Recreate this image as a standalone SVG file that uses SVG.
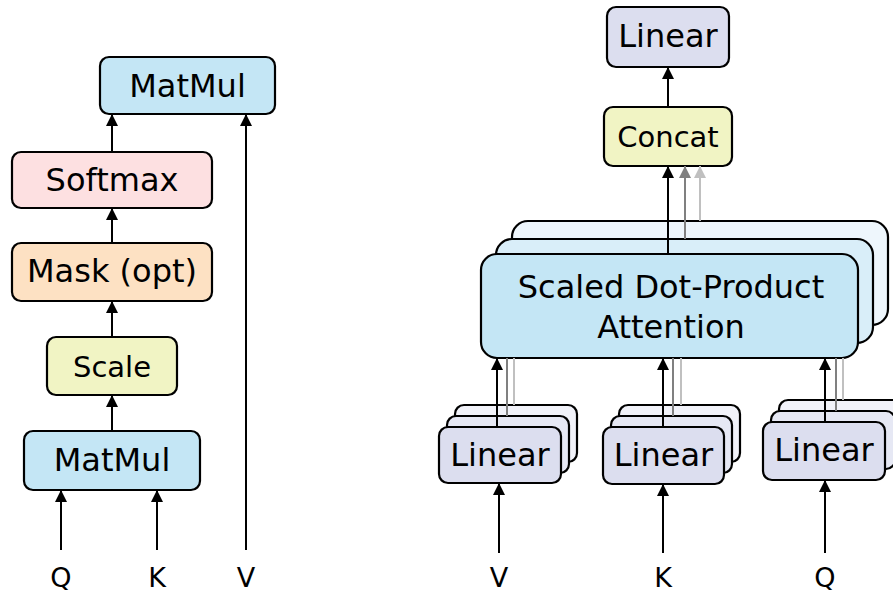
<svg xmlns="http://www.w3.org/2000/svg" width="893" height="596" viewBox="0 0 893 596">
  <defs>
    <style>
      .box { stroke: #000; stroke-width: 2.2; }
      .blue { fill: #c4e6f5; }
      .blue2 { fill: #d9eef9; }
      .blue3 { fill: #eef6fc; }
      .pink { fill: #fde0e1; }
      .peach { fill: #fde1c3; }
      .lime { fill: #f1f4c4; }
      .lav { fill: #dcdeef; }
      .lav2 { fill: #e6e8f4; }
      .lav3 { fill: #f1f2f9; }
      .t { font-family: "DejaVu Sans", Verdana, sans-serif; font-size: 32px; fill: #000; text-anchor: middle; }
      .ts { font-size: 29px; }
      .lbl { font-family: "DejaVu Sans", Verdana, sans-serif; font-size: 27px; fill: #000; text-anchor: middle; }
      .c { fill: none; stroke: #000; stroke-width: 2; }
      .g1 { stroke: #808080; }
      .g2 { stroke: #c0c0c0; }
    </style>
    <marker id="ah" viewBox="0 0 12 12" refX="12" refY="6" markerWidth="12" markerHeight="12" markerUnits="userSpaceOnUse" orient="auto">
      <path d="M0,0 L12,6 L0,12 Z" fill="#000"/>
    </marker>
    <marker id="ah1" viewBox="0 0 12 12" refX="12" refY="6" markerWidth="12" markerHeight="12" markerUnits="userSpaceOnUse" orient="auto">
      <path d="M0,0 L12,6 L0,12 Z" fill="#808080"/>
    </marker>
    <marker id="ah2" viewBox="0 0 12 12" refX="12" refY="6" markerWidth="12" markerHeight="12" markerUnits="userSpaceOnUse" orient="auto">
      <path d="M0,0 L12,6 L0,12 Z" fill="#c0c0c0"/>
    </marker>
  </defs>

  <!-- Scaled dot-product attention -->
  <g id="sdpa-matmul-top">
    <rect class="box blue" x="100" y="57" width="175" height="57" rx="9"/>
    <text class="t" x="187.5" y="97">MatMul</text>
  </g>
  <g id="sdpa-softmax">
    <rect class="box pink" x="12" y="152" width="200" height="56" rx="9"/>
    <text class="t" x="112" y="191">Softmax</text>
  </g>
  <g id="sdpa-mask">
    <rect class="box peach" x="12" y="243" width="200" height="58" rx="9"/>
    <text class="t" x="112" y="282">Mask (opt)</text>
  </g>
  <g id="sdpa-scale">
    <rect class="box lime" x="47" y="337" width="130" height="58" rx="9"/>
    <text class="t ts" x="112" y="377">Scale</text>
  </g>
  <g id="sdpa-matmul-bottom">
    <rect class="box blue" x="24" y="431" width="176" height="59" rx="9"/>
    <text class="t" x="112" y="471">MatMul</text>
  </g>
  <g id="sdpa-inputs">
    <text class="lbl" x="61" y="587">Q</text>
    <text class="lbl" x="157" y="587">K</text>
    <text class="lbl" x="246" y="587">V</text>
  </g>

  <!-- Multi-head attention -->
  <g id="mha-linear-out">
    <rect class="box lav" x="607" y="7" width="122" height="60" rx="9"/>
    <text class="t" x="668" y="47">Linear</text>
  </g>
  <g id="mha-concat">
    <rect class="box lime" x="604" y="107" width="128" height="59" rx="9"/>
    <text class="t ts" x="668" y="147">Concat</text>
  </g>
  <g id="mha-attention">
    <rect class="box blue3" x="512" y="221" width="376" height="104" rx="16"/>
    <rect class="box blue2" x="496" y="239" width="377" height="104" rx="16"/>
    <rect class="box blue" x="481" y="254" width="377" height="104" rx="16"/>
    <text class="t" x="671" y="298">Scaled Dot-Product</text>
    <text class="t" x="671" y="338">Attention</text>
  </g>
  <g id="mha-linear-v">
    <rect class="box lav3" x="455" y="405" width="122" height="57" rx="9"/>
    <rect class="box lav2" x="447" y="416" width="122" height="57" rx="9"/>
    <rect class="box lav" x="439" y="427" width="122" height="56" rx="9"/>
    <text class="t" x="500" y="466">Linear</text>
  </g>
  <g id="mha-linear-k">
    <rect class="box lav3" x="619" y="405" width="121" height="57" rx="9"/>
    <rect class="box lav2" x="611" y="416" width="121" height="57" rx="9"/>
    <rect class="box lav" x="603" y="427" width="121" height="57" rx="9"/>
    <text class="t" x="663.5" y="466">Linear</text>
  </g>
  <g id="mha-linear-q">
    <rect class="box lav3" x="779" y="400" width="124" height="57" rx="9"/>
    <rect class="box lav2" x="771" y="411" width="124" height="58" rx="9"/>
    <rect class="box lav" x="763" y="422" width="122" height="58" rx="9"/>
    <text class="t" x="824" y="461">Linear</text>
  </g>
  <g id="mha-inputs">
    <text class="lbl" x="499" y="587">V</text>
    <text class="lbl" x="663" y="587">K</text>
    <text class="lbl" x="825" y="587">Q</text>
  </g>

  <g id="connectors">
    <!-- scaled dot-product attention -->
    <line class="c" x1="61" y1="550" x2="61" y2="490" marker-end="url(#ah)"/>
    <line class="c" x1="157" y1="550" x2="157" y2="490" marker-end="url(#ah)"/>
    <line class="c" x1="246" y1="550" x2="246" y2="114" marker-end="url(#ah)"/>
    <line class="c" x1="112" y1="431" x2="112" y2="395" marker-end="url(#ah)"/>
    <line class="c" x1="112" y1="337" x2="112" y2="301" marker-end="url(#ah)"/>
    <line class="c" x1="112" y1="243" x2="112" y2="208" marker-end="url(#ah)"/>
    <line class="c" x1="112" y1="152" x2="112" y2="114" marker-end="url(#ah)"/>

    <!-- multi-head attention: heads into concat -->
    <line class="c g2" x1="700" y1="221" x2="700" y2="166" marker-end="url(#ah2)"/>
    <line class="c g1" x1="685" y1="239" x2="685" y2="166" marker-end="url(#ah1)"/>
    <line class="c" x1="668" y1="254" x2="668" y2="166" marker-end="url(#ah)"/>
    <line class="c" x1="668" y1="107" x2="668" y2="67" marker-end="url(#ah)"/>

    <!-- projections into attention -->
    <line class="c g2" x1="514" y1="405" x2="514" y2="358"/>
    <line class="c g1" x1="507" y1="416" x2="507" y2="358"/>
    <line class="c" x1="497" y1="427" x2="497" y2="358" marker-end="url(#ah)"/>
    <line class="c g2" x1="681" y1="405" x2="681" y2="358"/>
    <line class="c g1" x1="673" y1="416" x2="673" y2="358"/>
    <line class="c" x1="663" y1="427" x2="663" y2="358" marker-end="url(#ah)"/>
    <line class="c g2" x1="843" y1="400" x2="843" y2="358"/>
    <line class="c g1" x1="836" y1="411" x2="836" y2="358"/>
    <line class="c" x1="825" y1="422" x2="825" y2="358" marker-end="url(#ah)"/>

    <!-- inputs into projections -->
    <line class="c" x1="499" y1="553" x2="499" y2="483" marker-end="url(#ah)"/>
    <line class="c" x1="663" y1="553" x2="663" y2="484" marker-end="url(#ah)"/>
    <line class="c" x1="825" y1="553" x2="825" y2="480" marker-end="url(#ah)"/>
  </g>
</svg>
